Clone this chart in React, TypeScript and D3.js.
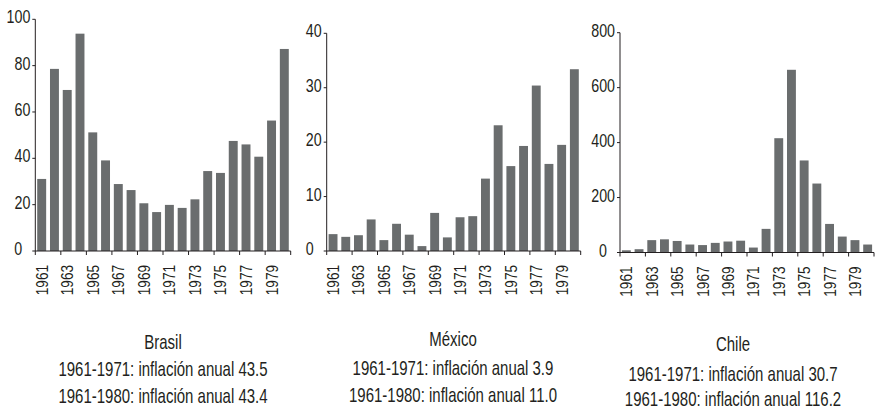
import React, { useRef, useEffect } from 'react';
import * as d3 from 'd3';

// Years on the x axis (1961-1980)
const years: number[] = d3.range(1961, 1981);

// Annual inflation, percent
const brasilValues = [31.1, 78.6, 69.5, 93.8, 51.2, 39.1, 28.9, 26.3, 20.6, 16.8, 19.9, 18.6, 22.3, 34.5, 33.7, 47.5, 46.0, 40.7, 56.3, 87.2];
const mexicoValues = [3.1, 2.6, 2.9, 5.8, 2.0, 5.0, 3.0, 0.9, 7.0, 2.5, 6.2, 6.4, 13.3, 23.1, 15.6, 19.3, 30.4, 16.0, 19.5, 33.4];
const chileValues = [8, 12, 45, 48, 42, 29, 27, 35, 40, 43, 18, 86, 416, 665, 335, 251, 104, 58, 45, 29];

const brasilTicks = [0, 20, 40, 60, 80, 100];
const mexicoTicks = [0, 10, 20, 30, 40];
const chileTicks = [0, 200, 400, 600, 800];

const brasilCaption = ['Brasil', '1961-1971: inflación anual 43.5', '1961-1980: inflación anual 43.4'];
const mexicoCaption = ['México', '1961-1971: inflación anual 3.9', '1961-1980: inflación anual 11.0'];
const chileCaption = ['Chile', '1961-1971: inflación anual 30.7', '1961-1980: inflación anual 116.2'];

const FONT = "'Liberation Sans', Arial, sans-serif";
const BAR = '#6a6d6e';
const INK = '#231f20';
const SX = 0.75; // horizontal squeeze to mimic the condensed face

interface PanelDef {
  values: number[];
  ticks: number[];
  caption: string[];
  x0: number;
  x1: number;
  yTop: number;
  yBase: number;
  cx: number;
  capY: number[];
}

const panels: PanelDef[] = [
  { values: brasilValues, ticks: brasilTicks, caption: brasilCaption, x0: 35.3, x1: 290.7, yTop: 19.3, yBase: 251, cx: 163, capY: [349, 376, 403] },
  { values: mexicoValues, ticks: mexicoTicks, caption: mexicoCaption, x0: 326.7, x1: 580.7, yTop: 33.3, yBase: 251, cx: 453, capY: [346, 375, 402] },
  { values: chileValues, ticks: chileTicks, caption: chileCaption, x0: 620, x1: 874, yTop: 32.7, yBase: 252.5, cx: 733, capY: [351, 381, 406] },
];

const width = 876;
const height = 415;

const App: React.FC = () => {
  const svgRef = useRef<SVGSVGElement | null>(null);

  useEffect(() => {
    if (!svgRef.current) return;
    const svg = d3.select(svgRef.current);
    svg.selectAll('*').remove();

    panels.forEach((p) => {
      const g = svg.append('g');
      const yMax = p.ticks[p.ticks.length - 1];

      const x = d3.scaleBand<number>()
        .domain(years)
        .range([p.x0, p.x1])
        .paddingInner(0.3)
        .paddingOuter(0.15);

      const y = d3.scaleLinear()
        .domain([0, yMax])
        .range([p.yBase, p.yTop]);

      // Bars
      g.selectAll('rect.bar')
        .data(years.map((yr, i) => ({ yr, v: p.values[i] })))
        .enter()
        .append('rect')
        .attr('class', 'bar')
        .attr('x', d => x(d.yr) || 0)
        .attr('y', d => y(d.v))
        .attr('width', x.bandwidth())
        .attr('height', d => p.yBase - y(d.v))
        .attr('fill', BAR);

      // Y axis line and ticks
      g.append('path')
        .attr('d', `M${p.x0},${p.yTop}V${p.yBase}`)
        .attr('stroke', INK)
        .attr('fill', 'none');
      g.selectAll('line.ytick')
        .data(p.ticks)
        .enter()
        .append('line')
        .attr('class', 'ytick')
        .attr('x1', p.x0 - 3)
        .attr('x2', p.x0)
        .attr('y1', d => y(d))
        .attr('y2', d => y(d))
        .attr('stroke', INK);
      g.selectAll('text.ylab')
        .data(p.ticks)
        .enter()
        .append('text')
        .attr('class', 'ylab')
        .attr('transform', d => `translate(${p.x0 - (d === 0 ? 13 : 5)},${y(d) + 4}) scale(${SX},1)`)
        .attr('text-anchor', 'end')
        .attr('fill', INK)
        .attr('font-family', FONT)
        .attr('font-size', '19px')
        .text(d => `${d}`);

      // X axis: ticks every two years at band edges
      const edgeTicks = d3.range(0, years.length + 1, 2).map(i => p.x0 + i * x.step());
      g.append('line')
        .attr('x1', p.x0)
        .attr('x2', p.x1)
        .attr('y1', p.yBase)
        .attr('y2', p.yBase)
        .attr('stroke', INK);
      g.selectAll('line.xtick')
        .data(edgeTicks)
        .enter()
        .append('line')
        .attr('class', 'xtick')
        .attr('x1', d => d)
        .attr('x2', d => d)
        .attr('y1', p.yBase)
        .attr('y2', p.yBase + 4)
        .attr('stroke', INK);

      // Year labels (odd years)
      g.selectAll('text.year')
        .data(years.filter((_, i) => i % 2 === 0))
        .enter()
        .append('text')
        .attr('class', 'year')
        .attr('transform', d => `translate(${(x(d) || 0) + x.bandwidth() / 2 + 6},${p.yBase + 14}) rotate(-90) scale(0.8,1)`)
        .attr('text-anchor', 'end')
        .attr('fill', INK)
        .attr('font-family', FONT)
        .attr('font-size', '17px')
        .text(d => `${d}`);

      // Caption
      g.selectAll('text.cap')
        .data(p.caption)
        .enter()
        .append('text')
        .attr('class', 'cap')
        .attr('transform', (_, i) => `translate(${p.cx},${p.capY[i]}) scale(${SX},1)`)
        .attr('text-anchor', 'middle')
        .attr('fill', INK)
        .attr('font-family', FONT)
        .attr('font-size', '20px')
        .text(d => d);
    });
  }, []);

  return (
    <svg
      ref={svgRef}
      width={width}
      height={height}
      style={{ position: 'absolute', left: 0, top: 0, background: '#fff' }}
    />
  );
};

export default App;
